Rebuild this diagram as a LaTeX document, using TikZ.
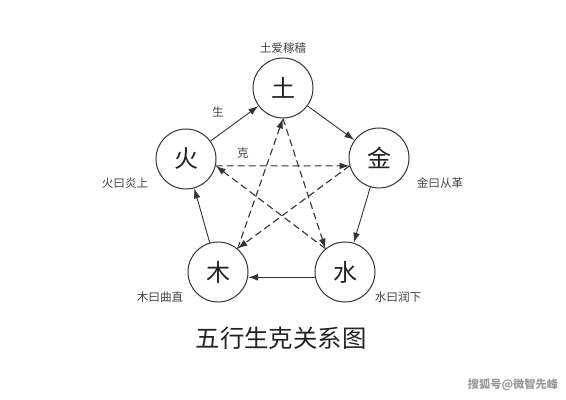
\documentclass[tikz,border=0pt]{standalone}
\usepackage{fontspec}
\newfontfamily\cjk{Noto Sans CJK SC}
\usetikzlibrary{positioning, arrows.meta}
\definecolor{cInk}{HTML}{222222}
\definecolor{cLine}{HTML}{333333}
\definecolor{cMark}{HTML}{9A9A9A}

\begin{document}
\begin{tikzpicture}[
  x=0.5pt, y=-0.5pt,
  element/.style={
    circle, draw=cLine, line width=0.5pt, minimum size=30pt, inner sep=0pt,
    font=\cjk\fontsize{12}{12}\selectfont, text=cInk
  },
  note/.style={font=\cjk\fontsize{5.8}{6}\selectfont, text=cInk!85},
  sheng/.style={
    -{Latex[length=5pt, width=3.4pt]}, line width=0.45pt, color=cLine
  },
  ke/.style={
    -{Latex[length=5pt, width=3.4pt]}, line width=0.55pt, color=cLine,
    dash pattern=on 3.5pt off 2pt
  },
]
\useasboundingbox (0,0) rectangle (566,400);

% five elements
\node[element] (tu)   at (283,88)  {土};
\node[element] (huo)  at (186,159) {火};
\node[element] (jin)  at (379,158) {金};
\node[element] (mu)   at (218,272) {木};
\node[element] (shui) at (345,272) {水};

% sheng cycle
\draw[sheng] (huo) -- (tu);
\draw[sheng] (tu) -- (jin);
\draw[sheng] (jin) -- (shui);
\draw[sheng] (shui.190) -- (mu.-10);
\draw[sheng] (mu) -- (huo);

% ke cycle
\foreach \a/\b in {huo.-13/jin.195, jin.195/mu.50, mu.50/tu.south,
  tu.south/shui.130, shui.130/huo.-13} {
  \draw[ke] (\a) -- (\b);
}

% labels
\node[note] (ltu)   at (283,48)  {土爱稼穑};
\node[note] (lhuo)  at (125,183) {火曰炎上};
\node[note] (ljin)  at (440,183) {金曰从革};
\node[note] (lmu)   at (160,297) {木曰曲直};
\node[note] (lshui) at (398,297) {水曰润下};
\node[note] (lsheng) at (218,112) {生};
\node[note] (lke)    at (243,153) {克};

% title
\node[font=\cjk\fontsize{12.2}{13}\selectfont, text=cInk] (title)
  at (281,338) {五行生克关系图};
\node[font=\cjk\fontsize{5.6}{6}\selectfont\bfseries, text=cMark] (mark)
  at (513,385) {搜狐号@微智先峰};

\end{tikzpicture}
\end{document}
